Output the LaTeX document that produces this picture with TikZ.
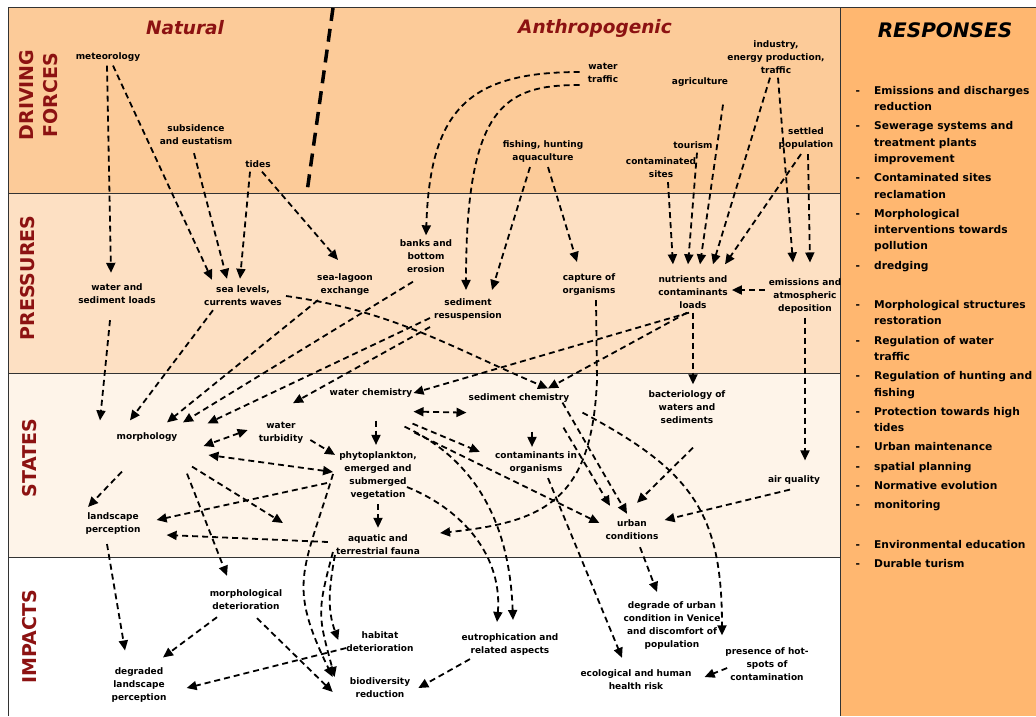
\documentclass[tikz,border=0pt]{standalone}
\usepackage{fontspec}
\setmainfont{DejaVu Sans}
\usetikzlibrary{arrows.meta}

\definecolor{drivcol}{RGB}{252,203,153}
\definecolor{prescol}{RGB}{253,224,195}
\definecolor{statcol}{RGB}{254,244,233}
\definecolor{respcol}{RGB}{255,183,112}
\definecolor{titred}{RGB}{140,18,18}

\begin{document}
\begin{tikzpicture}[x=1pt, y=-1pt, >={Triangle[length=10pt,width=9pt]}]

\tikzstyle{every node} = [align=center, inner sep=4pt, font={\fontsize{9}{13}\selectfont\bfseries}]
\tikzstyle{arr} = [->, line width=1.8pt, dash pattern=on 6pt off 4pt]
\tikzstyle{arrb} = [arr, <->]
\tikzstyle{side} = [rotate=90, text=titred, font={\fontsize{19}{24}\selectfont\bfseries}]
\tikzstyle{title} = [text=titred, font={\fontsize{18.5}{22}\selectfont\bfseries\itshape}]
\tikzstyle{resplist} = [inner sep=0pt, anchor=north west, font={\fontsize{10.7}{16.3}\selectfont\bfseries}]
\tikzstyle{rule} = [line width=1pt, black!80]

\useasboundingbox (0,0) rectangle (1036,716);
\clip (0,0) rectangle (1036,716);

% bands
\fill[drivcol] (8,7) rectangle (840,193);
\fill[prescol] (8,193) rectangle (840,373);
\fill[statcol] (8,373) rectangle (840,557);
\fill[respcol] (840,7) rectangle (1036,716);
\draw[rule] (8,7) -- (1036,7);
\draw[rule] (8,7) -- (8,716);
\draw[rule] (8,193) -- (840,193);
\draw[rule] (8,373) -- (840,373);
\draw[rule] (8,557) -- (840,557);
\draw[rule] (840,7) -- (840,716);

% natural / anthropogenic divide
\draw[line width=3.5pt, dash pattern=on 13pt off 8pt] (333,8) -- (307,192);

\node[side] (df) at (39,95) {DRIVING\\FORCES};
\node[side] (pr) at (28,278) {PRESSURES};
\node[side] (st) at (30,458) {STATES};
\node[side] (im) at (30,637) {IMPACTS};

\node[title] (nat) at (185,28) {Natural};
\node[title] (anth) at (595,28) {Anthropogenic};
\node[title, text=black, font={\fontsize{20}{24}\selectfont\bfseries\itshape}] (resp) at (945,30) {RESPONSES};

% driving forces
\node (met) at (108,57) {meteorology};
\node (subs) at (196,135) {subsidence\\and eustatism};
\node (tides) at (258,164) {tides};
\node (wtraf) at (603,73) {water\\traffic};
\node (agri) at (700,82) {agriculture};
\node (indus) at (776,57) {industry,\\energy production,\\traffic};
\node (fish) at (543,152) {fishing, hunting\\aquaculture};
\node (tour) at (693,145) {tourism};
\node (csites) at (661,168) {contaminated\\sites};
\node (settl) at (806,139) {settled\\population};

% pressures
\node (wload) at (117,294) {water and\\sediment loads};
\node (sealev) at (243,296) {sea levels,\\currents waves};
\node (lagoon) at (345,285) {sea-lagoon\\exchange};
\node (banks) at (426,256) {banks and\\bottom\\erosion};
\node (resusp) at (468,310) {sediment\\resuspension};
\node (capt) at (589,285) {capture of\\organisms};
\node (nutr) at (693,292) {nutrients and\\contaminants\\loads};
\node (emis) at (805,296) {emissions and\\atmospheric\\deposition};

% states
\node (wchem) at (371,393) {water chemistry};
\node (sedchem) at (519,398) {sediment chemistry};
\node (bact) at (687,407) {bacteriology of\\waters and\\sediments};
\node (turb) at (281,433) {water\\turbidity};
\node (morph) at (147,437) {morphology};
\node (phyto) at (378,476) {phytoplankton,\\emerged and\\submerged\\vegetation};
\node (contorg) at (536,463) {contaminants in\\organisms};
\node (air) at (794,480) {air quality};
\node (land) at (113,524) {landscape\\perception};
\node (fauna) at (378,545) {aquatic and\\terrestrial fauna};
\node (urban) at (632,530) {urban\\conditions};

% impacts
\node (mdet) at (246,600) {morphological\\deterioration};
\node (hab) at (380,642) {habitat\\deterioration};
\node (eutro) at (510,645) {eutrophication and\\related aspects};
\node (degr) at (672,626) {degrade of urban\\condition in Venice\\and discomfort of\\population};
\node (dland) at (139,685) {degraded\\landscape\\perception};
\node (biod) at (380,688) {biodiversity\\reduction};
\node (risk) at (636,680) {ecological and human\\health risk};
\node (hot) at (767,664) {presence of hot-\\spots of\\contamination};

% responses
\node[resplist] (rlist) at (855.5,82.6) {\begin{tabular}{@{}l@{\hspace{14pt}}l@{}}
-& Emissions and discharges\\
 & reduction\\[3pt]
-& Sewerage systems and\\
 & treatment plants\\
 & improvement\\[3pt]
-& Contaminated sites\\
 & reclamation\\[3pt]
-& Morphological\\
 & interventions towards\\
 & pollution\\[3pt]
-& dredging\\[23pt]
-& Morphological structures\\
 & restoration\\[3pt]
-& Regulation of water\\
 & traffic\\[3pt]
-& Regulation of hunting and\\
 & fishing\\[3pt]
-& Protection towards high\\
 & tides\\[3pt]
-& Urban maintenance\\[3pt]
-& spatial planning\\[3pt]
-& Normative evolution\\[3pt]
-& monitoring\\[23pt]
-& Environmental education\\[3pt]
-& Durable turism
\end{tabular}};

% driving forces -> pressures
\draw[arr] ([xshift=-1pt]met.south) -- ([xshift=-6pt,yshift=7pt]wload.north);
\draw[arr] ([xshift=5pt]met.south) -- ([xshift=-31pt,yshift=2pt]sealev.north);
\draw[arr] ([xshift=-2pt,yshift=-4pt]subs.south) -- ([xshift=-16pt,yshift=3pt]sealev.north);
\draw[arr] ([xshift=-8pt]tides.south) -- ([xshift=-3pt,yshift=3pt]sealev.north);
\draw[arr] ([xshift=4pt]tides.south) -- ([xshift=-7pt,yshift=10pt]lagoon.north);
\draw[arr] ([xshift=-4pt,yshift=1pt]wtraf.west) .. controls (468,72) and (430,110) .. (banks.north);
\draw[arr] ([xshift=-4pt,yshift=-12pt]wtraf.west) .. controls (505,85) and (466,105) .. ([xshift=-2pt,yshift=5pt]resusp.north);
\draw[arr] ([xshift=-13pt]fish.south) -- ([xshift=24pt,yshift=5pt]resusp.north);
\draw[arr] ([xshift=5pt]fish.south) -- ([xshift=-12pt,yshift=8pt]capt.north);
\draw[arr] ([xshift=7pt]csites.south) -- ([xshift=-20pt,yshift=7pt]nutr.north);
\draw[arr] ([xshift=4pt]tour.south) -- ([xshift=-5pt,yshift=7pt]nutr.north);
\draw[arr] ([xshift=23pt,yshift=-14pt]agri.south) -- ([xshift=7pt,yshift=7pt]nutr.north);
\draw[arr] ([xshift=-6pt]indus.south) -- ([xshift=20pt,yshift=7pt]nutr.north);
\draw[arr] ([xshift=-5pt]settl.south) -- ([xshift=32pt,yshift=7pt]nutr.north);
\draw[arr] ([xshift=2pt]indus.south) -- ([xshift=-12pt,yshift=12pt]emis.north);
\draw[arr] ([xshift=2pt]settl.south) -- ([xshift=5pt,yshift=12pt]emis.north);
\draw[arr] ([yshift=6pt]emis.west) -- ([yshift=2pt]nutr.east);

% pressures -> states
\draw[arr] ([xshift=-7pt,yshift=-12pt]wload.south) -- ([xshift=-47pt,yshift=8pt]morph.north);
\draw[arr] ([xshift=-30pt]sealev.south) -- ([xshift=-17pt,yshift=8pt]morph.north);
\draw[arr] ([xshift=-27pt]lagoon.south) -- ([xshift=20pt,yshift=6pt]morph.north);
\draw[arr] ([xshift=-13pt,yshift=-5pt]banks.south) -- ([xshift=36pt,yshift=6pt]morph.north);
\draw[arr] ([yshift=-8pt]resusp.west) -- ([xshift=26pt,yshift=5pt]morph.north east);
\draw[arr] ([yshift=-17pt]resusp.west) -- ([xshift=12pt,yshift=15pt]turb.north);
\draw[arr] (sealev.east) to[out=-8,in=157] ([xshift=29pt,yshift=1pt]sedchem.north);
\draw[arr] ([xshift=-4pt]nutr.south) -- ([xshift=-3pt]wchem.east);
\draw[arr] ([xshift=-6pt]nutr.south) -- ([xshift=29pt,yshift=1pt]sedchem.north);
\draw[arr] (nutr.south) -- ([xshift=6pt,yshift=2pt]bact.north);
\draw[arr] (emis.south) -- ([xshift=11pt,yshift=11pt]air.north);
\draw[arr] ([xshift=7pt]capt.south) -- ++(1,80) .. controls (592,500) and (545,522) .. ([xshift=16pt,yshift=12pt]fauna.east);

% states
\draw[arrb] ([xshift=-3pt,yshift=-10pt]wchem.south east) -- ([xshift=2pt,yshift=-6pt]sedchem.south west);
\draw[arr] ([xshift=5pt,yshift=-19pt]wchem.south) -- ([xshift=-2pt,yshift=3pt]phyto.north);
\draw[arrb] ([xshift=-7pt,yshift=3pt]turb.west) -- ([xshift=22pt,yshift=-9pt]morph.east);
\draw[arr] ([xshift=3pt,yshift=-7pt]turb.east) -- ([yshift=-7pt]phyto.north west);
\draw[arrb] ([xshift=-2pt,yshift=4pt]phyto.west) -- ([xshift=27pt,yshift=-18pt]morph.east);
\draw[arr] ([xshift=-25pt,yshift=-26pt]morph.south) -- ([xshift=-25pt,yshift=2pt]land.north);
\draw[arr] ([xshift=45pt,yshift=-21pt]morph.south) -- ([xshift=-49pt,yshift=22pt]fauna.west);
\draw[arr] ([xshift=40pt,yshift=-28pt]morph.south) -- ([xshift=-19pt,yshift=10pt]mdet.north);
\draw[arr] ([xshift=-8pt,yshift=-7pt]phyto.west) -- ([xshift=12pt,yshift=4pt]land.east);
\draw[arr] ([xshift=-4pt,yshift=3pt]fauna.west) -- ([xshift=22pt,yshift=-11pt]land.east);
\draw[arr] (phyto.south) -- ([yshift=3pt]fauna.north);
\draw[arr] ([xshift=-4pt,yshift=-22pt]wchem.south east) -- ([xshift=-11pt,yshift=-4pt]contorg.north west);
\draw[arr] ([xshift=-2pt,yshift=-31pt]wchem.south east) -- ([xshift=-2pt,yshift=7pt]urban.west);
\draw[arr] ([xshift=-12pt,yshift=-25pt]wchem.south east) to[out=-25,in=92] ([xshift=3pt,yshift=10pt]eutro.north);
\draw[arr] ([xshift=-14pt,yshift=-11pt]phyto.east) to[out=-22,in=85] ([xshift=-13pt,yshift=8pt]eutro.north);
\draw[arr] ([xshift=13pt,yshift=-25pt]sedchem.south) -- ([xshift=-4pt,yshift=1pt]contorg.north);
\draw[arr] ([xshift=-11pt,yshift=4pt]sedchem.south east) -- ([xshift=-5pt,yshift=2pt]urban.north);
\draw[arr] ([xshift=-10pt,yshift=-21pt]sedchem.south east) -- ([xshift=-22pt,yshift=10pt]urban.north);
\draw[arr] ([xshift=9pt,yshift=-6pt]sedchem.south east) to[out=-28,in=90,looseness=1.2] ([xshift=-45pt,yshift=8pt]hot.north);
\draw[arr] ([xshift=12pt]contorg.south) -- ([xshift=-14pt,yshift=8pt]risk.north);
\draw[arr] ([xshift=6pt,yshift=-20pt]bact.south) -- ([xshift=5pt,yshift=13pt]urban.north);
\draw[arr] ([xshift=-4pt,yshift=-1pt]air.south) -- ([xshift=2pt,yshift=10pt]urban.east);
\draw[arr] ([xshift=8pt,yshift=-3pt]urban.south) -- ([xshift=-15pt,yshift=6pt]degr.north);

% states -> impacts
\draw[arr] ([xshift=-6pt,yshift=-5pt]land.south) -- ([xshift=-14pt,yshift=13pt]dland.north);
\draw[arr] ([xshift=-29pt,yshift=-3pt]mdet.south) -- ([xshift=24pt,yshift=6pt]dland.north);
\draw[arr] ([xshift=11pt,yshift=-4pt]mdet.south) -- ([xshift=-13pt,yshift=-4pt]biod.west);
\draw[arr] ([xshift=4pt,yshift=-6pt]hab.west) -- ([xshift=16pt,yshift=-3pt]dland.east);
\draw[arr] ([xshift=-2pt,yshift=2pt]phyto.west) to[out=-107,in=116,looseness=1.3] ([xshift=-13pt,yshift=11pt]biod.west);
\draw[arr] ([xshift=1pt,yshift=-7pt]fauna.west) to[out=-105,in=105,looseness=1.3] ([xshift=-11pt,yshift=11pt]biod.west);
\draw[arr] ([xshift=3pt,yshift=-10pt]fauna.west) to[out=-100,in=110] ([xshift=-4pt,yshift=2pt]hab.west);
\draw[arr] ([xshift=-40pt,yshift=1pt]eutro.south) -- ([xshift=4pt]biod.east);
\draw[arr] ([xshift=6pt,yshift=-4pt]hot.west) -- ([xshift=9pt,yshift=3pt]risk.east);

\end{tikzpicture}
\end{document}
